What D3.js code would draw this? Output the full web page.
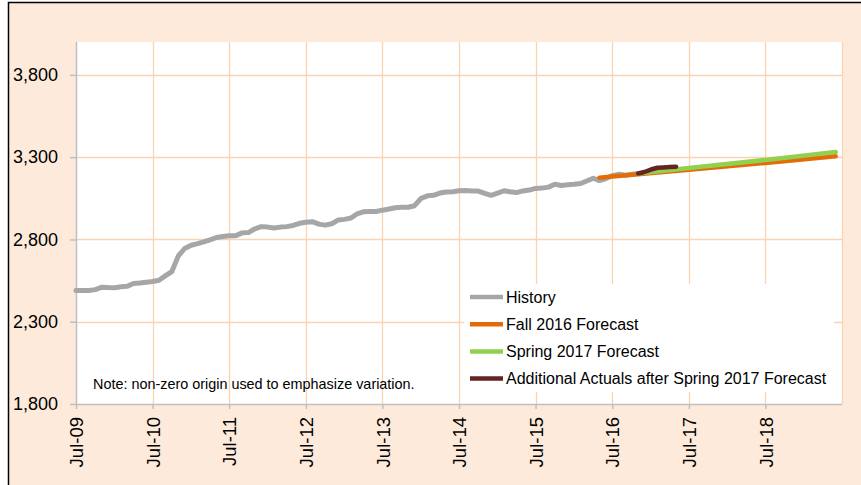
<!DOCTYPE html>
<html><head><meta charset="utf-8">
<script src="https://cdn.jsdelivr.net/npm/d3@7"></script>
<style>
body{margin:0;background:#fff}
svg{display:block;font-family:Arial,"Liberation Sans",sans-serif}
</style></head>
<body><svg id="c" width="861" height="485"></svg>
<script>
// ---- data ----
const historyStart = "2009-07";
const historyValues = [
 2490,2490,2490,2495,2510,2508,2507,2512,2515,2532,2535,2540,
 2545,2552,2580,2605,2700,2745,2765,2775,2785,2798,2812,2818,
 2822,2822,2840,2842,2865,2878,2875,2870,2875,2878,2885,2898,
 2905,2908,2893,2887,2895,2918,2922,2930,2955,2968,2970,2970,
 2978,2985,2993,2995,2996,3005,3050,3065,3068,3082,3088,3090,
 3096,3098,3095,3094,3080,3068,3082,3096,3090,3085,3095,3100,
 3110,3112,3118,3135,3128,3132,3135,3140,3155,3172,3158,3170,
 3188,3196,3190,3196,3201];
const fallDates = ["2016-05","2016-07","2017-07","2018-07","2019-06"];
const fallValues = [3175,3182,3224,3265,3305];
const springDates = ["2016-11","2017-07","2018-07","2019-06"];
const springValues = [3201,3234,3283,3331];
const actualDates = ["2016-11","2016-12","2017-01","2017-02","2017-03","2017-04","2017-05"];
const actualValues = [3201,3210,3225,3236,3238,3240,3242];
const xTickLabels = ["Jul-09","Jul-10","Jul-11","Jul-12","Jul-13","Jul-14","Jul-15","Jul-16","Jul-17","Jul-18"];
const xGridDates = ["2010-07","2011-07","2012-07","2013-07","2014-07","2015-07","2016-07","2017-07","2018-07","2019-07"];
const yTicks = [1800,2300,2800,3300,3800];
const seriesNames = ["History","Fall 2016 Forecast","Spring 2017 Forecast","Additional Actuals after Spring 2017 Forecast"];
const seriesColors = ["#A6A6A6","#E36C09","#92D050","#632523"];
const noteText = "Note: non-zero origin used to emphasize variation.";

// ---- setup ----
const parse = d3.timeParse("%Y-%m");
const svg = d3.select("#c");
const L = 76, R = 842, T = 42, B = 404;
const x = d3.scaleTime().domain([parse("2009-07"), parse("2019-07")]).range([L, R]);
const y = d3.scaleLinear().domain([1800, 4000]).range([B, T]);

svg.append("rect").attr("x",8.5).attr("y",2.5).attr("width",870).attr("height",500)
  .attr("fill","#FDEADA").attr("stroke","#000").attr("stroke-width",1.5);
svg.append("rect").attr("x",L).attr("y",T).attr("width",R-L).attr("height",B-T).attr("fill","#fff");

const grid = "#FAD3B0";
svg.append("g").selectAll("line").data(yTicks.slice(1)).join("line")
  .attr("x1",L).attr("x2",R).attr("y1",d=>Math.round(y(d))+0.5).attr("y2",d=>Math.round(y(d))+0.5)
  .attr("stroke",grid).attr("stroke-width",1.3);
svg.append("g").selectAll("line").data(xGridDates.map(parse)).join("line")
  .attr("x1",d=>Math.round(x(d))+0.5).attr("x2",d=>Math.round(x(d))+0.5).attr("y1",T).attr("y2",B)
  .attr("stroke",grid).attr("stroke-width",1.3);

// axes
const yAxis = svg.append("g").attr("transform",`translate(${L},0)`)
  .call(d3.axisLeft(y).tickValues(yTicks).tickFormat(d3.format(",")).tickSize(6).tickPadding(12));
yAxis.select(".domain").attr("d",`M0.5,${T}V${B}`).attr("stroke","#BFBFBF").attr("stroke-width",1.5);
yAxis.selectAll(".tick line").attr("stroke","#BFBFBF").attr("stroke-width",1.5);
yAxis.selectAll("text").attr("font-size",18).attr("fill","#000").attr("font-family","Arial,'Liberation Sans',sans-serif");

const xTickDates = xTickLabels.map(s => d3.timeParse("%b-%y")(s));
const xAxis = svg.append("g").attr("transform",`translate(0,${B})`)
  .call(d3.axisBottom(x).tickValues(xTickDates).tickFormat(d3.timeFormat("%b-%y")).tickSize(5));
xAxis.select(".domain").attr("d",`M${L},0.5H${R}`).attr("stroke","#BFBFBF").attr("stroke-width",1.5);
xAxis.selectAll(".tick line").attr("stroke","#BFBFBF").attr("stroke-width",1.5);
xAxis.selectAll("text").attr("font-size",18.5).attr("fill","#000")
  .attr("font-family","Arial,'Liberation Sans',sans-serif")
  .attr("transform","rotate(-90)").attr("text-anchor","end").attr("x",-13).attr("y",0).attr("dy","0.36em");

// lines
const line = d3.line().x(d=>x(d[0])).y(d=>y(d[1]));
const histData = historyValues.map((v,i)=>[d3.timeMonth.offset(parse(historyStart),i), v]);
const fallData = fallDates.map((d,i)=>[parse(d), fallValues[i]]);
const springData = springDates.map((d,i)=>[parse(d), springValues[i]]);
const actualData = actualDates.map((d,i)=>[parse(d), actualValues[i]]);
[[histData,0,5],[fallData,1,4.5],[springData,2,4.5],[actualData,3,4.5]].forEach(([dat,k,w])=>{
  svg.append("path").datum(dat).attr("d",line).attr("fill","none")
    .attr("stroke",seriesColors[k]).attr("stroke-width",w)
    .attr("stroke-linejoin","round").attr("stroke-linecap","round");
});

// note
svg.append("text").attr("x",93).attr("y",389).attr("font-size",14.4).attr("fill","#000").text(noteText);

// legend
svg.append("rect").attr("x",464).attr("y",284).attr("width",370).attr("height",108).attr("fill","#fff");
const lg = svg.append("g").selectAll("g").data(seriesNames).join("g")
  .attr("transform",(d,i)=>`translate(470,${297+i*27.2})`);
lg.append("line").attr("x1",0).attr("x2",33).attr("y1",0).attr("y2",0)
  .attr("stroke",(d,i)=>seriesColors[i]).attr("stroke-width",4.5);
lg.append("text").attr("x",36).attr("y",0).attr("dy","0.36em").attr("font-size",16).attr("fill","#000").text(d=>d);
</script></body></html>
